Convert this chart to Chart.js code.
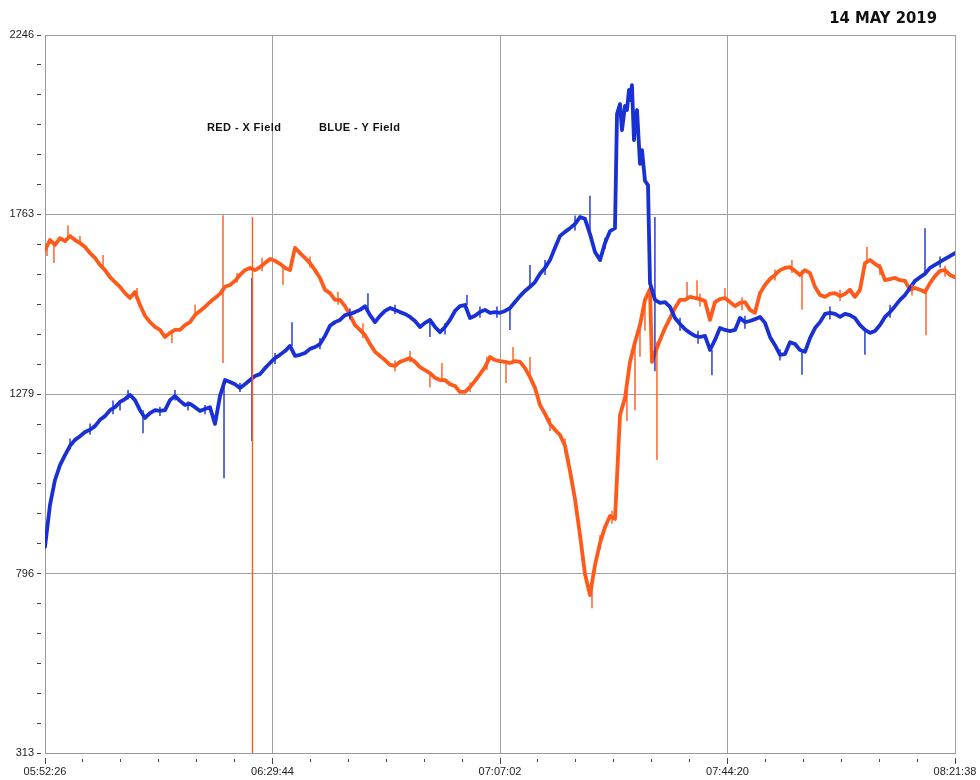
<!DOCTYPE html>
<html>
<head>
<meta charset="utf-8">
<script src="https://cdn.jsdelivr.net/npm/chart.js@4/dist/chart.umd.min.js"></script>
<style>
  html, body { margin: 0; padding: 0; background: #fff; }
  #wrap { width: 980px; height: 780px; }
</style>
</head>
<body>
<div id="wrap"><canvas id="c" width="980" height="780"></canvas></div>
<script>
// Magnetometer log, 05:52:26 to 08:21:38 (8952 s of record)
const chartDate = '14 MAY 2019';
const seriesNames = ['RED - X Field', 'BLUE - Y Field'];
const xTickLabels = ['05:52:26', '06:29:44', '07:07:02', '07:44:20', '08:21:38'];
const xTickSeconds = [0, 2238, 4476, 6714, 8952];
const yTickLabels = ['313', '796', '1279', '1763', '2246'];
const yTickValues = [313, 796, 1279, 1763, 2246];

// regular samples, 183 per channel, evenly spread over the record
const sampleSeconds = 8952 / 182;

const xField = [
  1667, 1694, 1681, 1699, 1691, 1705, 1694, 1686, 1675, 1659,
  1646, 1627, 1613, 1594, 1581, 1568, 1551, 1538, 1554, 1519,
  1490, 1473, 1460, 1452, 1433, 1444, 1452, 1452, 1465, 1473,
  1492, 1503, 1514, 1527, 1538, 1549, 1568, 1573, 1584, 1600,
  1613, 1619, 1613, 1621, 1632, 1643, 1638, 1630, 1619, 1613,
  1673, 1659, 1646, 1632, 1613, 1592, 1560, 1551, 1533, 1533,
  1516, 1492, 1465, 1452, 1438, 1414, 1393, 1382, 1371, 1358,
  1355, 1366, 1371, 1376, 1366, 1352, 1344, 1336, 1323, 1317,
  1317, 1306, 1301, 1285, 1285, 1298, 1315, 1333, 1352, 1379,
  1371, 1368, 1366, 1363, 1368, 1366, 1349, 1325, 1296, 1250,
  1226, 1199, 1183, 1169, 1140, 1072, 997, 900, 795, 738,
  819, 878, 921, 951, 943, 1223, 1269, 1366, 1419, 1465,
  1533, 1562, 1390, 1425, 1457, 1484, 1511, 1533, 1533, 1541,
  1538, 1535, 1530, 1479, 1527, 1535, 1538, 1527, 1516, 1525,
  1527, 1506, 1498, 1551, 1573, 1589, 1600, 1613, 1619, 1621,
  1611, 1600, 1613, 1605, 1568, 1546, 1541, 1549, 1551, 1543,
  1549, 1560, 1541, 1560, 1632, 1640, 1630, 1621, 1586, 1589,
  1592, 1586, 1584, 1560, 1565, 1560, 1554, 1578, 1597, 1611,
  1613, 1600, 1594
];

const yField = [
  868, 981, 1048, 1088, 1115, 1140, 1156, 1166, 1177, 1183,
  1193, 1210, 1220, 1236, 1244, 1258, 1266, 1277, 1263, 1236,
  1215, 1228, 1236, 1234, 1236, 1263, 1274, 1261, 1250, 1253,
  1244, 1234, 1239, 1244, 1199, 1274, 1317, 1312, 1306, 1296,
  1306, 1317, 1328, 1333, 1349, 1363, 1376, 1385, 1395, 1409,
  1382, 1385, 1390, 1401, 1406, 1414, 1436, 1463, 1473, 1479,
  1492, 1495, 1500, 1506, 1516, 1492, 1473, 1490, 1503, 1511,
  1506, 1500, 1495, 1487, 1476, 1460, 1471, 1479, 1460, 1446,
  1460, 1479, 1503, 1516, 1519, 1484, 1490, 1500, 1506, 1498,
  1500, 1498, 1503, 1511, 1527, 1543, 1557, 1568, 1581, 1603,
  1619, 1640, 1673, 1705, 1716, 1726, 1737, 1756, 1751, 1710,
  1662, 1640, 1686, 1718, 1726, 2060, 2055, 2071, 2006, 1899,
  1853, 1578, 1533, 1525, 1527, 1514, 1484, 1468, 1454, 1444,
  1436, 1433, 1436, 1398, 1425, 1457, 1452, 1449, 1452, 1484,
  1473, 1476, 1481, 1487, 1471, 1433, 1411, 1385, 1387, 1419,
  1414, 1398, 1393, 1430, 1457, 1473, 1495, 1498, 1495, 1487,
  1495, 1492, 1484, 1465, 1452, 1444, 1449, 1465, 1487, 1500,
  1516, 1533, 1546, 1565, 1584, 1594, 1603, 1619, 1627, 1635,
  1643, 1651, 1659
];

// extra readings between regular samples where the trace moves fast: [seconds, value]
const xFieldExtra = [[5971, 1366]];
const yFieldExtra = [
  [5627, 2033], [5676, 1990], [5725, 2044], [5745, 2098], [5774, 2111],
  [5794, 1963], [5824, 2044], [5873, 1936], [5932, 1842]
];

// brief transients and noise bursts, drawn as hairlines: [seconds, low, high]
const xFieldTransients = [
  [20, 1651, 1680], [88, 1632, 1681], [226, 1700, 1734], [344, 1686, 1705],
  [571, 1622, 1654], [905, 1540, 1565], [1249, 1417, 1444], [1476, 1490, 1520],
  [1751, 1363, 1761], [1889, 1580, 1605], [2041, 313, 1756], [2135, 1610, 1646],
  [2341, 1573, 1625], [2607, 1620, 1650], [2882, 1520, 1555], [3128, 1430, 1470],
  [3443, 1340, 1370], [3591, 1365, 1395], [3787, 1298, 1336], [3905, 1317, 1363],
  [4181, 1285, 1310], [4348, 1345, 1380], [4535, 1309, 1366], [4604, 1363, 1406],
  [4771, 1325, 1379], [4968, 1180, 1215], [5115, 1120, 1160], [5283, 830, 880],
  [5381, 703, 760], [5460, 860, 900], [5578, 930, 965], [5725, 1207, 1300],
  [5804, 1236, 1419], [5853, 1380, 1470], [5902, 1450, 1540], [6020, 1102, 1420],
  [6316, 1533, 1581], [6414, 1538, 1586], [6443, 1515, 1550], [6689, 1538, 1565],
  [6857, 1505, 1540], [7181, 1585, 1615], [7348, 1605, 1640], [7447, 1506, 1613],
  [7821, 1530, 1560], [8086, 1632, 1675], [8214, 1600, 1630], [8529, 1545, 1575],
  [8667, 1438, 1554], [8854, 1595, 1625]
];
const yFieldTransients = [
  [246, 1130, 1160], [443, 1170, 1200], [669, 1225, 1262], [738, 1235, 1262],
  [817, 1265, 1290], [964, 1174, 1236], [1131, 1220, 1245], [1279, 1262, 1290],
  [1407, 1235, 1260], [1574, 1225, 1250], [1761, 1053, 1317], [1918, 1285, 1310],
  [2036, 1153, 1592], [2263, 1360, 1390], [2430, 1409, 1473], [2705, 1400, 1430],
  [3000, 1480, 1510], [3177, 1500, 1551], [3443, 1495, 1520], [3787, 1433, 1479],
  [3935, 1440, 1470], [4151, 1519, 1546], [4279, 1485, 1515], [4446, 1485, 1515],
  [4574, 1452, 1511], [4771, 1568, 1627], [4919, 1600, 1640], [5214, 1720, 1760],
  [5361, 1710, 1813], [5509, 1670, 1700], [6000, 1341, 1756], [6247, 1450, 1485],
  [6424, 1415, 1450], [6561, 1330, 1398], [6886, 1455, 1490], [7230, 1370, 1400],
  [7447, 1331, 1393], [7722, 1480, 1515], [8066, 1385, 1452], [8313, 1485, 1520],
  [8657, 1603, 1726], [8805, 1620, 1650]
];

const redColour = '#ff5a1a';
const blueColour = '#1830d4';

function bandPoints(samples, extra) {
  const pts = samples.map((v, i) => ({ x: i * sampleSeconds, y: v }));
  extra.forEach(([t, v]) => pts.push({ x: t, y: v }));
  pts.sort((a, b) => a.x - b.x);
  return pts;
}

function hairPoints(list) {
  const pts = [];
  list.forEach(([t, lo, hi]) => {
    pts.push({ x: t, y: lo }, { x: t, y: hi }, { x: t, y: null });
  });
  return pts;
}

// five minor divisions between labelled ticks
function subdivide(majors, parts) {
  const out = [];
  for (let i = 0; i < majors.length - 1; i++) {
    for (let k = 0; k < parts; k++) {
      out.push({ value: majors[i] + (majors[i + 1] - majors[i]) * k / parts });
    }
  }
  out.push({ value: majors[majors.length - 1] });
  return out;
}

const isMajor = ctx => ctx.index % 6 === 0;

const textLayer = {
  id: 'textLayer',
  afterDraw(chart) {
    const { ctx, chartArea } = chart;
    ctx.save();
    ctx.fillStyle = '#111';
    ctx.textBaseline = 'middle';
    ctx.font = 'bold 11px "Liberation Sans", Arial, sans-serif';
    ctx.letterSpacing = '0.4px';
    ctx.fillText(seriesNames[0], chartArea.left + 162, chartArea.top + 93);
    ctx.fillText(seriesNames[1], chartArea.left + 274, chartArea.top + 93);
    ctx.font = 'bold 16.5px "DejaVu Sans Condensed", sans-serif';
    ctx.letterSpacing = '0px';
    ctx.textAlign = 'right';
    ctx.fillText(chartDate, chartArea.right - 18, chartArea.top - 16);
    ctx.restore();
  }
};

const band = {
  pointRadius: 0,
  tension: 0,
  borderWidth: 3.8,
  borderJoinStyle: 'round',
  borderCapStyle: 'round'
};
const hair = {
  pointRadius: 0,
  tension: 0,
  borderWidth: 1.4,
  spanGaps: false
};

new Chart(document.getElementById('c'), {
  type: 'line',
  data: {
    datasets: [
      Object.assign({ label: seriesNames[0] + ' transients', data: hairPoints(xFieldTransients), borderColor: redColour, order: 0 }, hair),
      Object.assign({ label: seriesNames[1] + ' transients', data: hairPoints(yFieldTransients), borderColor: blueColour, order: 1 }, hair),
      Object.assign({ label: seriesNames[1], data: bandPoints(yField, yFieldExtra), borderColor: blueColour, order: 2 }, band),
      Object.assign({ label: seriesNames[0], data: bandPoints(xField, xFieldExtra), borderColor: redColour, order: 3 }, band)
    ]
  },
  options: {
    responsive: false,
    animation: false,
    devicePixelRatio: 1,
    layout: { padding: { top: 35, right: 25, left: 0, bottom: 0 } },
    plugins: { legend: { display: false }, tooltip: { enabled: false } },
    scales: {
      x: {
        type: 'linear',
        min: 0,
        max: 8952,
        afterBuildTicks: scale => { scale.ticks = subdivide(xTickSeconds, 6); },
        afterFit: scale => { scale.height = 27; },
        ticks: {
          autoSkip: false,
          maxRotation: 0,
          padding: 1,
          color: '#222',
          font: { family: '"Liberation Sans", Arial, sans-serif', size: 11 },
          callback: (v, i) => (i % 6 === 0 ? xTickLabels[i / 6] : '')
        },
        grid: {
          color: ctx => (isMajor(ctx) ? '#a0a0a0' : 'rgba(0,0,0,0)'),
          lineWidth: 1,
          tickLength: 11,
          tickColor: '#444',
          tickWidth: 1,
          tickBorderDash: ctx => (isMajor(ctx) ? [0, 4, 7, 100] : [0, 5, 3, 100])
        },
        border: { display: true, color: '#9a9a9a', width: 1 }
      },
      y: {
        type: 'linear',
        min: 313,
        max: 2246,
        afterBuildTicks: scale => { scale.ticks = subdivide(yTickValues, 6); },
        afterFit: scale => { scale.width = 45; },
        ticks: {
          autoSkip: false,
          padding: 3,
          color: '#222',
          font: { family: '"Liberation Sans", Arial, sans-serif', size: 11 },
          callback: (v, i) => (i % 6 === 0 ? yTickLabels[i / 6] : '')
        },
        grid: {
          color: ctx => (isMajor(ctx) ? '#a0a0a0' : 'rgba(0,0,0,0)'),
          lineWidth: 1,
          tickLength: 8,
          tickColor: '#444',
          tickWidth: 1,
          tickBorderDash: [4, 100]
        },
        border: { display: true, color: '#9a9a9a', width: 1 }
      }
    }
  },
  plugins: [textLayer]
});
</script>
</body>
</html>
